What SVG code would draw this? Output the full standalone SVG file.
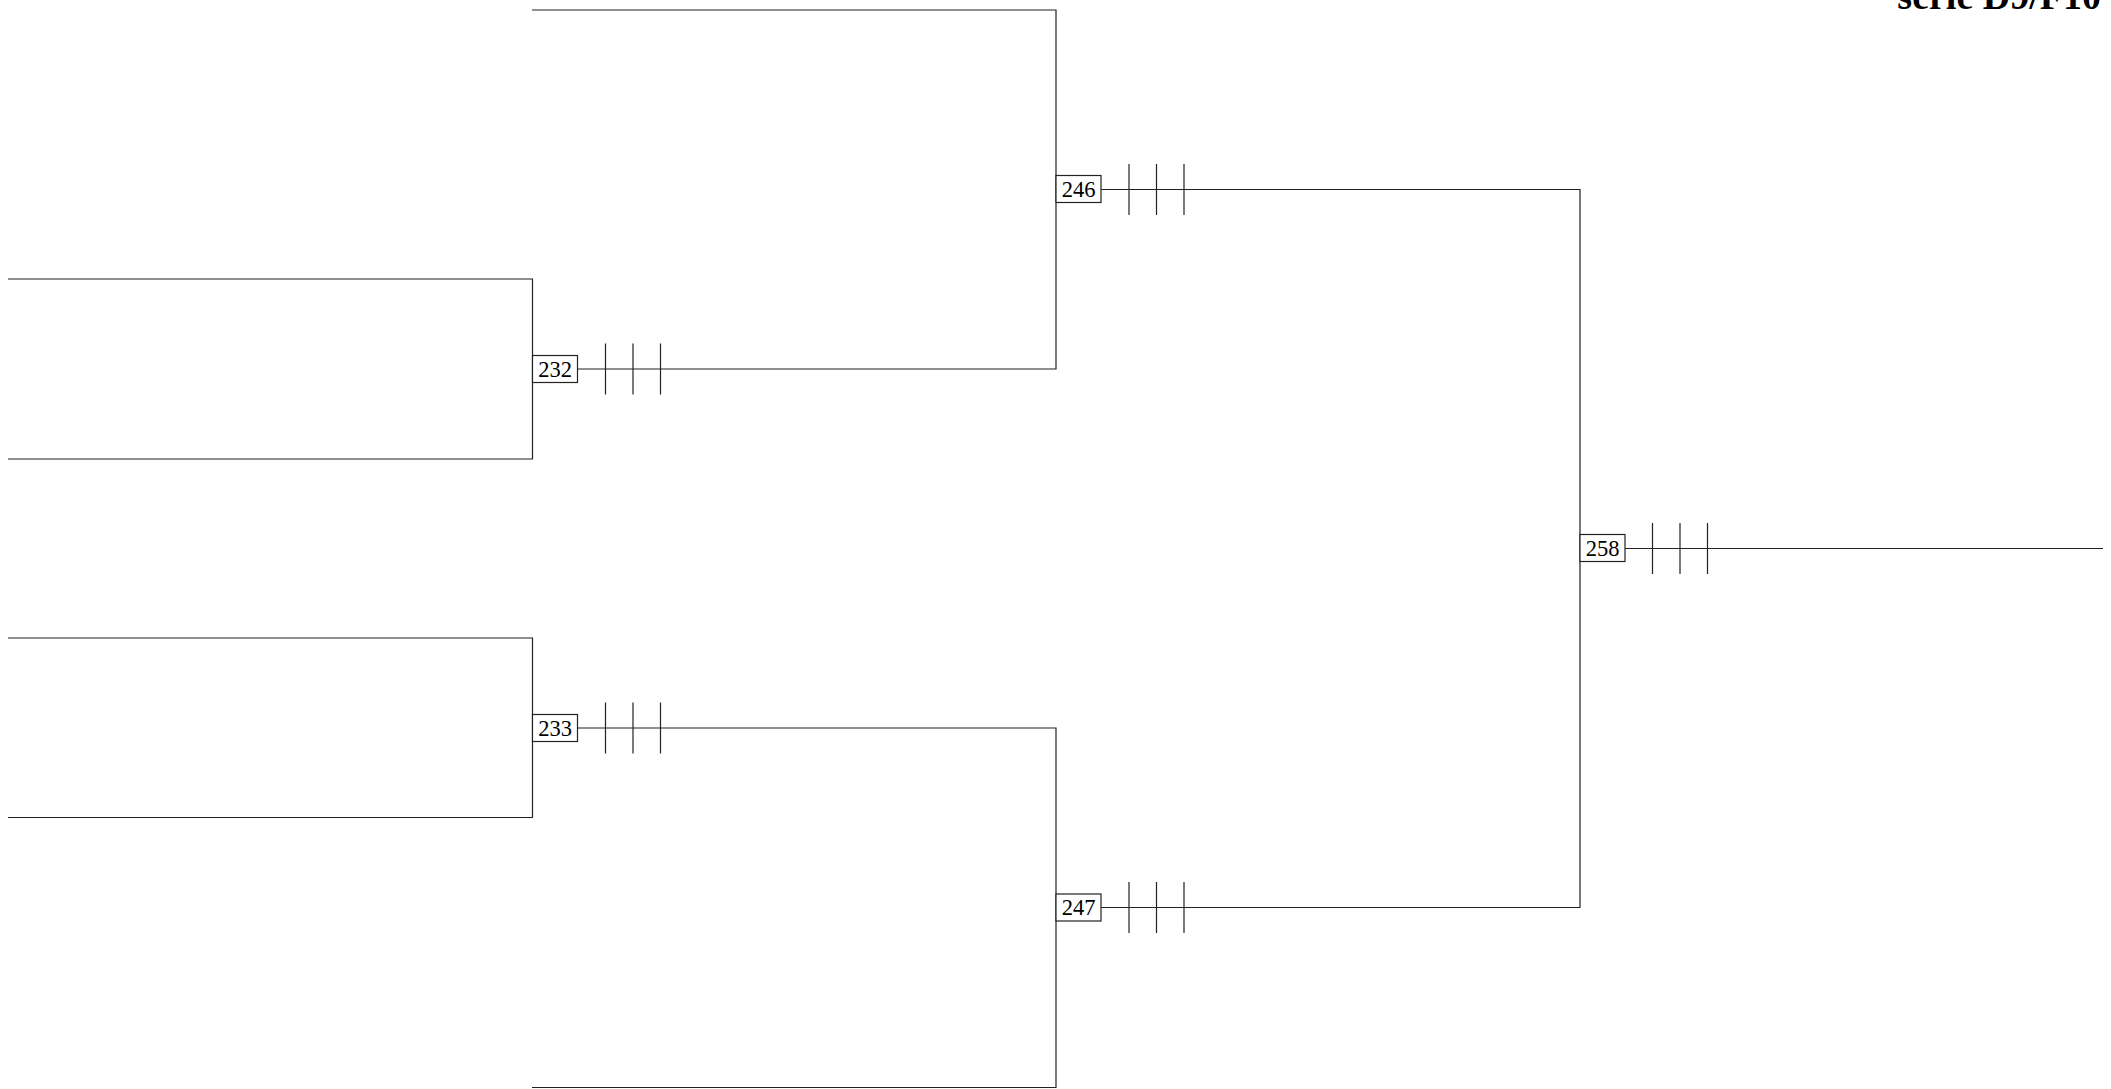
<svg xmlns="http://www.w3.org/2000/svg" width="2111" height="1089" viewBox="0 0 2111 1089">
<style>
.ln{fill:none;stroke:#222;stroke-width:1.2}
.bx{fill:#fff;stroke:#222;stroke-width:1.2}
.lb{font-family:"Liberation Serif",serif;font-size:22.5px;fill:#000;text-anchor:middle}
.tt{font-family:"Liberation Serif",serif;font-size:38px;font-weight:bold;fill:#000;text-anchor:end}
</style>
<rect width="2111" height="1089" fill="#fff"/>
<text class="tt" x="2101" y="9">serie D9/F10</text>
<g id="connectors">
<path class="ln" d="M8 279H532.5V459H8"/>
<path class="ln" d="M8 638H532.5V817.5H8"/>
<path class="ln" d="M532 10H1056V369H577"/>
<path class="ln" d="M577 728H1056V1087.5H532"/>
<path class="ln" d="M1101 189.5H1580V907.5H1101"/>
<path class="ln" d="M1625 548.5H2103"/>
<path class="ln" d="M605.5 343.5V394.5M633 343.5V394.5M660.5 343.5V394.5"/>
<path class="ln" d="M605.5 702.5V753.5M633 702.5V753.5M660.5 702.5V753.5"/>
<path class="ln" d="M1129 164V215M1156.5 164V215M1184 164V215"/>
<path class="ln" d="M1129 882V933M1156.5 882V933M1184 882V933"/>
<path class="ln" d="M1652.5 523V574M1680 523V574M1707.5 523V574"/>
</g>
<g id="n232"><rect class="bx" x="532.5" y="355.5" width="45" height="27"/><text class="lb" x="555" y="376.5">232</text></g>
<g id="n233"><rect class="bx" x="532.5" y="714.5" width="45" height="27"/><text class="lb" x="555" y="735.5">233</text></g>
<g id="n246"><rect class="bx" x="1056" y="175.5" width="45" height="27"/><text class="lb" x="1078.5" y="196.5">246</text></g>
<g id="n247"><rect class="bx" x="1056" y="894" width="45" height="27"/><text class="lb" x="1078.5" y="915">247</text></g>
<g id="n258"><rect class="bx" x="1580" y="534.5" width="45" height="27"/><text class="lb" x="1602.5" y="555.5">258</text></g>
</svg>
